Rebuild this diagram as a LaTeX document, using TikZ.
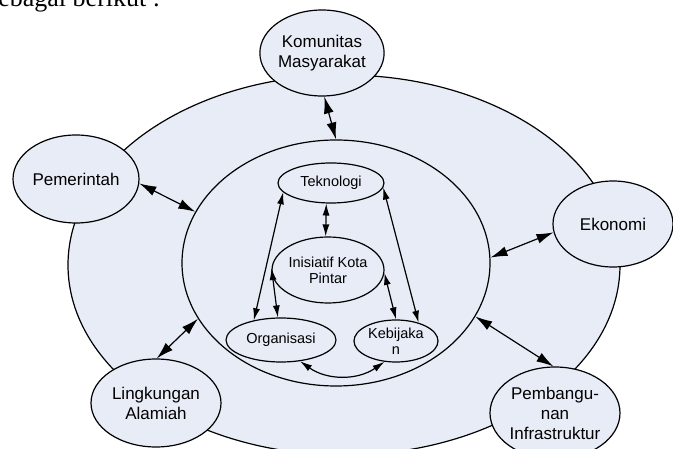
\documentclass[tikz,border=0pt]{standalone}
\usepackage{fontspec}
\setmainfont{Liberation Sans}
\newfontfamily\serif{Liberation Serif}
\usetikzlibrary{arrows.meta}
\usetikzlibrary{shapes.geometric}
\definecolor{bubblefill}{RGB}{231,236,246}

\begin{document}
\begin{tikzpicture}[x=1pt, y=1pt, line width=1.2pt,
        bubble/.style={ellipse, draw, fill=bubblefill, inner sep=0pt, align=center, font=\fontsize{17}{20}\selectfont},
        small/.style={bubble, font=\fontsize{14.5}{16}\selectfont},
        link/.style={{Latex[length=17pt,width=10pt]}-{Latex[length=17pt,width=10pt]}},
        tip/.style={{Latex[length=12pt,width=7pt]}-{Latex[length=12pt,width=7pt]}}]
        \useasboundingbox (0,0) rectangle (673,-449);
        \node[anchor=base east, font=\serif\fontsize{26}{30}\selectfont] (intro) at (164,-7) {sebagai berikut :};

        % the two rings
        \node[bubble, minimum width=552pt, minimum height=380pt] (outer) at (344,-265) {};
        \node[bubble, minimum width=308pt, minimum height=246pt] (mid) at (336,-263) {};

        % outside
        \node[bubble, minimum width=124pt, minimum height=86pt] (kom) at (322,-53) {Komunitas\\Masyarakat};
        \node[bubble, minimum width=126pt, minimum height=88pt] (pem) at (76,-179) {Pemerintah};
        \node[bubble, minimum width=120pt, minimum height=86pt] (eko) at (613,-224) {Ekonomi};
        \node[bubble, minimum width=130pt, minimum height=88pt] (ling) at (156,-403) {Lingkungan\\Alamiah};
        \node[bubble, minimum width=130pt, minimum height=92pt] (pemb) at (555,-413) {Pembangu-\\nan\\Infrastruktur};

        % inside
        \node[small, minimum width=106pt, minimum height=40pt] (tek) at (331,-183) {Teknologi};
        \node[small, minimum width=112pt, minimum height=66pt] (ini) at (328,-270) {Inisiatif Kota\\Pintar};
        \node[small, minimum width=110pt, minimum height=44pt] (org) at (281,-340) {Organisasi};
        \node[small, minimum width=84pt, minimum height=42pt] (keb) at (396,-341) {Kebijaka\\n};

        \path[link] (kom.-87) edge (mid.90)
              (pem.-4) edge (mid.160)
              (eko.188) edge (mid.2)
              (ling.89) edge (mid.202)
              (pemb.92) edge (mid.-21);

        \path[tip] (tek.-103) edge (ini.94)
              (tek.191) edge (org.144)
              (tek.-5) edge (keb.39)
              (ini.178) edge (org.98)
              (ini.-3) edge (keb.90)
              (org.-48) edge[bend right=35] (keb.-119);
\end{tikzpicture}
\end{document}
